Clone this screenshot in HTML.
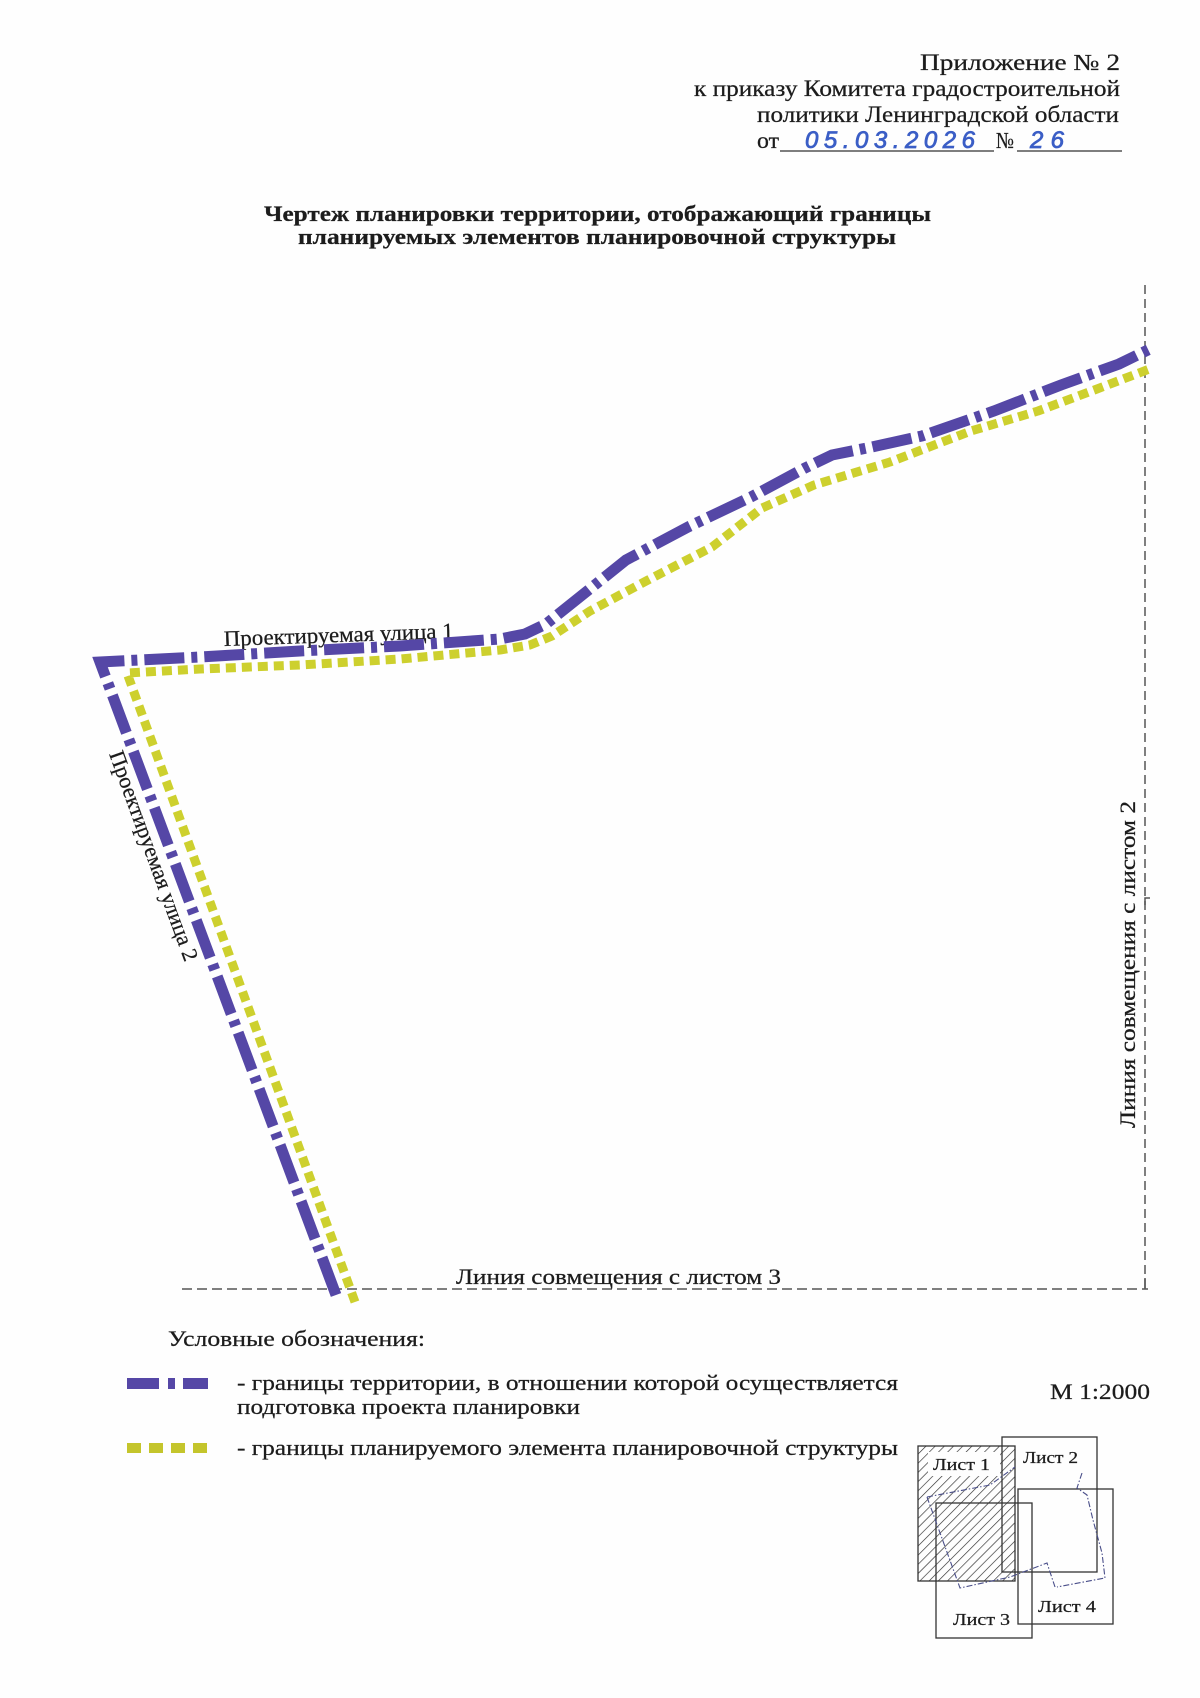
<!DOCTYPE html>
<html>
<head>
<meta charset="utf-8">
<style>
html,body{margin:0;padding:0;background:#fefefe;}
svg{display:block;}
.serif{font-family:"Liberation Serif","Noto Serif CJK SC",serif;fill:#1c1c1c;stroke:#1c1c1c;stroke-width:0.25;}
.hand{font-family:"Liberation Sans","DejaVu Sans",sans-serif;font-style:italic;fill:#3b5ec6;stroke:#3b5ec6;stroke-width:0.8;}
</style>
</head>
<body>
<svg width="1200" height="1698" viewBox="0 0 1200 1698" xmlns="http://www.w3.org/2000/svg">
<defs>
  <pattern id="hatch" patternUnits="userSpaceOnUse" width="6.5" height="6.5" patternTransform="rotate(45)">
    <line x1="0" y1="0" x2="0" y2="6.5" stroke="#2a2a2a" stroke-width="1.3"/>
  </pattern>
</defs>
<rect x="0" y="0" width="1200" height="1698" fill="#fefefe"/>

<!-- Header -->
<g class="serif" font-size="23">
  <text x="920" y="70" textLength="200" lengthAdjust="spacingAndGlyphs">Приложение № 2</text>
  <text x="694" y="96" textLength="426" lengthAdjust="spacingAndGlyphs">к приказу Комитета градостроительной</text>
  <text x="757" y="122" textLength="362" lengthAdjust="spacingAndGlyphs">политики Ленинградской области</text>
  <text x="757" y="148" textLength="22" lengthAdjust="spacingAndGlyphs">от</text>
  <text x="996" y="148" textLength="18" lengthAdjust="spacingAndGlyphs">№</text>
</g>
<line x1="780" y1="151" x2="994" y2="151" stroke="#333" stroke-width="1.2"/>
<line x1="1017" y1="151" x2="1122" y2="151" stroke="#333" stroke-width="1.2"/>
<text class="hand" x="805" y="148" font-size="24" textLength="170" lengthAdjust="spacing">05.03.2026</text>
<text class="hand" x="1030" y="148" font-size="24" textLength="34" lengthAdjust="spacing">26</text>

<!-- Title -->
<g class="serif" font-size="22" font-weight="bold">
  <text x="264" y="221" textLength="667" lengthAdjust="spacingAndGlyphs">Чертеж планировки территории, отображающий границы</text>
  <text x="298" y="244" textLength="598" lengthAdjust="spacingAndGlyphs">планируемых элементов планировочной структуры</text>
</g>

<!-- Dashed match lines -->
<g stroke="#555" stroke-width="1.5" fill="none">
  <line x1="1145" y1="285" x2="1145" y2="1289" stroke-dasharray="9 5"/>
  <line x1="182" y1="1289" x2="1148" y2="1289" stroke-dasharray="10 5"/>
  <line x1="1145" y1="1278" x2="1145" y2="1289"/>
  <polyline points="1145,905 1145,898 1150,898"/>
</g>

<!-- Labels on map -->
<g class="serif" font-size="22">
  <text transform="translate(224,646) rotate(-2)" x="0" y="0" textLength="230" lengthAdjust="spacingAndGlyphs">Проектируемая улица 1</text>
  <text transform="translate(109,754) rotate(70)" x="0" y="0" textLength="222" lengthAdjust="spacingAndGlyphs">Проектируемая улица 2</text>
  <text transform="translate(1135,1128) rotate(-90)" x="0" y="0" textLength="327" lengthAdjust="spacingAndGlyphs">Линия совмещения с листом 2</text>
  <text x="456" y="1284" textLength="325" lengthAdjust="spacingAndGlyphs">Линия совмещения с листом 3</text>
</g>

<!-- Yellow boundary -->
<path d="M355,1302 L127,673 L200,669 L300,665 L400,659 L500,650 L530,645 L552,636 L590,611 L648,580 L712,547 L762,508 L814,485 L890,462 L971,431 L1038,411 L1097,389 L1152,368"
      fill="none" stroke="#cdd02e" stroke-width="9" stroke-dasharray="10 6" stroke-linejoin="round"/>

<!-- Purple boundary -->
<path d="M336,1295 L100,662 L200,657 L300,651 L400,646 L500,639 L525,634 L546,624 L581,596 L626,560 L688,527 L751,497 L805,468 L832,455 L872,447 L922,436 L994,411 L1061,385 L1119,364 L1152,348"
      fill="none" stroke="#5547a6" stroke-width="11" stroke-dasharray="40 7 6 7" stroke-linejoin="miter"/>

<!-- Legend -->
<g class="serif" font-size="22">
  <text x="168" y="1346" textLength="257" lengthAdjust="spacingAndGlyphs">Условные обозначения:</text>
  <text x="237" y="1390" textLength="661" lengthAdjust="spacingAndGlyphs">- границы территории, в отношении которой осуществляется</text>
  <text x="237" y="1414" textLength="343" lengthAdjust="spacingAndGlyphs">подготовка проекта планировки</text>
  <text x="237" y="1455" textLength="661" lengthAdjust="spacingAndGlyphs">- границы планируемого элемента планировочной структуры</text>
  <text x="1050" y="1399" textLength="100" lengthAdjust="spacingAndGlyphs">М 1:2000</text>
</g>
<g fill="#5547a6">
  <rect x="127" y="1378" width="32" height="11"/>
  <rect x="168" y="1378" width="7" height="11"/>
  <rect x="183" y="1378" width="25" height="11"/>
</g>
<g fill="#c4c52c">
  <rect x="127" y="1443" width="14" height="10"/>
  <rect x="149" y="1443" width="14" height="10"/>
  <rect x="171" y="1443" width="14" height="10"/>
  <rect x="193" y="1443" width="14" height="10"/>
</g>

<!-- Inset sheet map -->
<g stroke="#333" stroke-width="1.3" fill="none">
  <rect x="918" y="1446" width="97" height="135" fill="url(#hatch)"/>
  <rect x="1002" y="1437" width="95" height="135"/>
  <rect x="936" y="1503" width="96" height="135"/>
  <rect x="1018" y="1489" width="95" height="135"/>
</g>
<rect x="928" y="1452" width="72" height="24" fill="#fefefe"/>
<g stroke="#4a4f8a" stroke-width="1.1" fill="none" stroke-dasharray="6 2 1.5 2">
  <polyline points="927,1497 960,1588 1010,1577 1047,1563 1055,1587"/>
  <polyline points="927,1497 990,1485 1015,1467"/>
  <polyline points="1082,1473 1077,1488 1087,1495 1093,1520 1102,1553 1105,1578 1057,1587"/>
</g>
<g class="serif" font-size="17">
  <text x="933" y="1470" textLength="57" lengthAdjust="spacingAndGlyphs">Лист 1</text>
  <text x="1023" y="1463" textLength="55" lengthAdjust="spacingAndGlyphs">Лист 2</text>
  <text x="953" y="1625" textLength="57" lengthAdjust="spacingAndGlyphs">Лист 3</text>
  <text x="1038" y="1612" textLength="58" lengthAdjust="spacingAndGlyphs">Лист 4</text>
</g>
</svg>
</body>
</html>
